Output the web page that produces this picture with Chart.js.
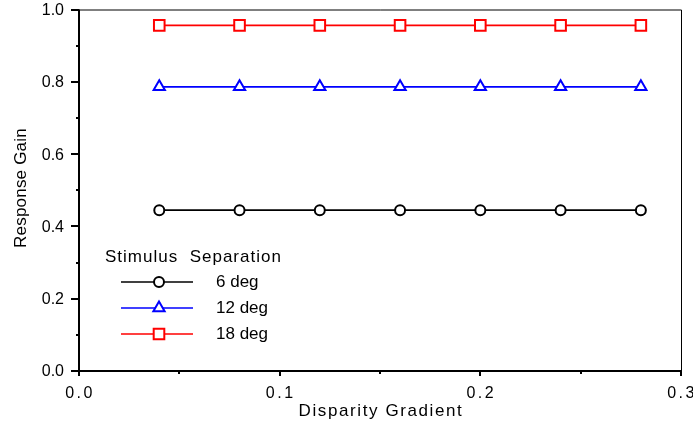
<!DOCTYPE html>
<html>
<head>
<meta charset="utf-8">
<script src="https://cdn.jsdelivr.net/npm/chart.js@4"></script>
<style>
  html, body { margin: 0; padding: 0; background: #fff; }
  #wrap { width: 693px; height: 427px; }
</style>
</head>
<body>
<div id="wrap"><canvas id="gainChart"></canvas></div>
<script>
// disparity gradient values (x)
const gradients = [0.04, 0.08, 0.12, 0.16, 0.20, 0.24, 0.28];
const gain6deg = [0.445, 0.445, 0.445, 0.445, 0.445, 0.445, 0.445];
const gain12deg = [0.786, 0.786, 0.786, 0.786, 0.786, 0.786, 0.786];
const gain18deg = [0.956, 0.956, 0.956, 0.956, 0.956, 0.956, 0.956];
const seriesLabels = ['6 deg', '12 deg', '18 deg'];
const xTickLabels = ['0.0', '0.1', '0.2', '0.3'];
const yTickLabels = ['0.0', '0.2', '0.4', '0.6', '0.8', '1.0'];

const FAMILY = '"Liberation Sans", Arial, sans-serif';

function toPoints(ys) {
    return gradients.map((x, i) => ({ x: x, y: ys[i] }));
}

function makeSet(label, ys, color, style, radius) {
    return {
        label: label,
        data: toPoints(ys),
        borderColor: color,
        backgroundColor: '#fff',
        borderWidth: 1.6,
        pointStyle: style,
        pointRadius: radius,
        pointBorderWidth: 2,
        pointBackgroundColor: '#fff',
        pointBorderColor: color,
        fill: false,
        tension: 0
    };
}

// axes decorations, frame and legend
const decorPlugin = {
    id: 'decor',
    afterDraw(chart) {
        const ctx = chart.ctx;
        const area = chart.chartArea;
        const xs = chart.scales.x;
        const ys = chart.scales.y;
        ctx.save();
        ctx.strokeStyle = '#000';

        // thin top/right frame
        ctx.lineWidth = 1;
        ctx.beginPath();
        ctx.moveTo(area.left, area.top + 0.5);
        ctx.lineTo(area.right + 0.5, area.top + 0.5);
        ctx.lineTo(area.right + 0.5, area.bottom);
        ctx.stroke();

        // thick left/bottom axes
        ctx.lineWidth = 2;
        ctx.beginPath();
        ctx.moveTo(area.left, area.top);
        ctx.lineTo(area.left, area.bottom);
        ctx.lineTo(area.right + 1, area.bottom);
        ctx.stroke();

        // ticks
        for (let v = 0; v <= 1.0001; v += 0.1) {
            const y = Math.round(ys.getPixelForValue(v));
            const major = Math.round(v * 10) % 2 === 0;
            ctx.beginPath();
            ctx.moveTo(area.left - (major ? 8 : 3), y);
            ctx.lineTo(area.left, y);
            ctx.stroke();
        }
        for (let v = 0; v <= 0.3001; v += 0.05) {
            const x = Math.round(xs.getPixelForValue(v));
            const major = Math.round(v * 20) % 2 === 0;
            ctx.beginPath();
            ctx.moveTo(x, area.bottom);
            ctx.lineTo(x, area.bottom + (major ? 5 : 3));
            ctx.stroke();
        }

        // tick labels
        ctx.fillStyle = '#000';
        ctx.font = '16px ' + FAMILY;
        ctx.textAlign = 'right';
        ctx.textBaseline = 'middle';
        yTickLabels.forEach(t => {
            ctx.fillText(t, area.left - 15, ys.getPixelForValue(parseFloat(t)) + 1);
        });
        ctx.textAlign = 'center';
        ctx.letterSpacing = '2.5px';
        xTickLabels.forEach(t => {
            ctx.fillText(t, xs.getPixelForValue(parseFloat(t)) + 1, area.bottom + 23);
        });

        // axis titles
        ctx.font = '17px ' + FAMILY;
        ctx.letterSpacing = '1.6px';
        ctx.fillText('Disparity Gradient', 381, 411);
        ctx.letterSpacing = '0.2px';
        ctx.save();
        ctx.translate(21, 188);
        ctx.rotate(-Math.PI / 2);
        ctx.fillText('Response Gain', 0, 0);
        ctx.restore();

        // legend
        ctx.textAlign = 'left';
        ctx.letterSpacing = '1px';
        ctx.fillText('Stimulus  Separation', 105, 257);
        ctx.letterSpacing = '0px';
        const rowY = [282, 308, 334];
        chart.data.datasets.forEach((ds, i) => {
            const y = rowY[i];
            ctx.strokeStyle = ds.borderColor;
            ctx.lineWidth = ds.borderWidth;
            ctx.beginPath();
            ctx.moveTo(121, y);
            ctx.lineTo(193, y);
            ctx.stroke();
            ctx.fillStyle = '#fff';
            ctx.lineWidth = ds.pointBorderWidth;
            Chart.helpers.drawPoint(ctx, {
                pointStyle: ds.pointStyle,
                radius: ds.pointRadius,
                rotation: 0,
                borderWidth: ds.pointBorderWidth
            }, 159, y);
            ctx.fillStyle = '#000';
            ctx.fillText(ds.label, 216, y);
        });
        ctx.restore();
    }
};

const ctx = document.getElementById('gainChart').getContext('2d');
new Chart(ctx, {
    type: 'line',
    data: {
        datasets: [
            makeSet(seriesLabels[0], gain6deg, '#000', 'circle', 5),
            makeSet(seriesLabels[1], gain12deg, '#0000ff', 'triangle', 6.5),
            makeSet(seriesLabels[2], gain18deg, '#ff0000', 'rect', 7.5)
        ]
    },
    options: {
        responsive: true,
        maintainAspectRatio: false,
        animation: false,
        layout: { padding: { left: 71, right: 12, top: 7, bottom: 48 } },
        plugins: { legend: { display: false }, tooltip: { enabled: false } },
        scales: {
            x: {
                type: 'linear', min: 0, max: 0.3,
                ticks: { display: false },
                grid: { display: false },
                border: { display: false }
            },
            y: {
                type: 'linear', min: 0, max: 1.0,
                ticks: { display: false },
                grid: { display: false },
                border: { display: false }
            }
        }
    },
    plugins: [decorPlugin]
});
</script>
</body>
</html>
